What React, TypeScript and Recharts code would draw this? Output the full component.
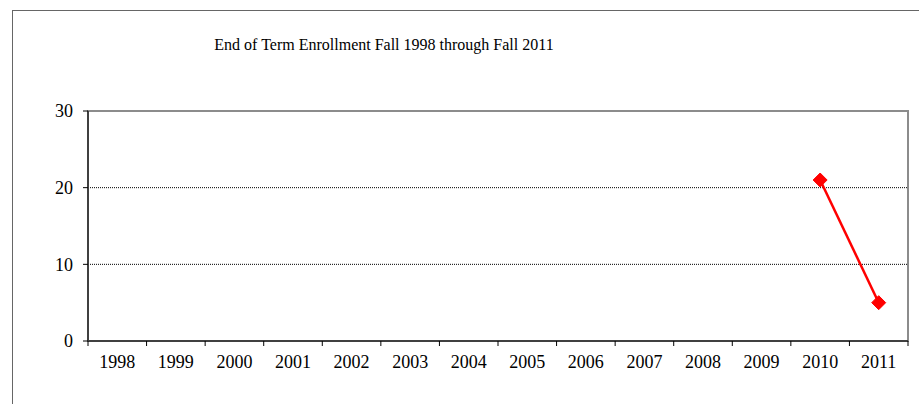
import { LineChart, Line, XAxis, YAxis, ReferenceLine, ReferenceArea } from 'recharts';

const years = ['1998', '1999', '2000', '2001', '2002', '2003', '2004', '2005', '2006', '2007', '2008', '2009', '2010', '2011'];
const enrollment: (number | null)[] = [null, null, null, null, null, null, null, null, null, null, null, null, 21, 5];
const yTicks = [0, 10, 20, 30];

const data = years.map((year, i) => ({ year, value: enrollment[i] }));

const W = 919;
const H = 404;
const margin = { top: 111, right: 11, bottom: 33, left: 28 };
const yAxisWidth = 60;
const plotWidth = W - margin.left - margin.right - yAxisWidth;
const band = plotWidth / years.length;
const font = '"Liberation Serif", "Times New Roman", serif';

function YearTick(props: any) {
  const { x, y, payload, index } = props;
  const axisY = y - 11;
  return (
    <g>
      <line x1={x - band / 2} x2={x - band / 2} y1={axisY} y2={axisY + 5} stroke="#000" strokeWidth={1} />
      {index === years.length - 1 && (
        <line x1={x + band / 2} x2={x + band / 2} y1={axisY} y2={axisY + 5} stroke="#000" strokeWidth={1} />
      )}
      <text x={x} y={y} dy={16} textAnchor="middle" fontSize={18} fontFamily={font} fill="#000">
        {payload.value}
      </text>
    </g>
  );
}

function Diamond(props: any) {
  const { cx, cy } = props;
  if (cx == null || cy == null || props.value == null) return null;
  const r = 7;
  return <polygon points={`${cx},${cy - r} ${cx + r},${cy} ${cx},${cy + r} ${cx - r},${cy}`} fill="#ff0000" stroke="#ff0000" />;
}

export default function App() {
  return (
    <div style={{ position: 'absolute', left: 0, top: 0, width: W, height: H, overflow: 'hidden', background: '#fff' }}>
      <div
        style={{
          position: 'absolute',
          left: 12,
          top: 10,
          width: 1000,
          height: 1000,
          borderLeft: '1.5px solid #666',
          borderTop: '1.5px solid #666',
        }}
      />
      <div
        style={{
          position: 'absolute',
          left: 0,
          width: 768,
          top: 36,
          textAlign: 'center',
          fontFamily: font,
          fontSize: 16,
          color: '#000',
        }}
      >
        End of Term Enrollment Fall 1998 through Fall 2011
      </div>
      <div style={{ position: 'absolute', left: 0, top: 0 }}>
        <LineChart width={W} height={H} data={data} margin={margin}>
          <ReferenceArea y1={0} y2={30} fill="none" stroke="#8c8c8c" strokeWidth={2} ifOverflow="visible" />
          <ReferenceLine y={20} stroke="#000" strokeDasharray="1 1" strokeWidth={1} />
          <ReferenceLine y={10} stroke="#000" strokeDasharray="1 1" strokeWidth={1} />
          <XAxis
            dataKey="year"
            scale="band"
            height={30}
            tickLine={false}
            tickSize={5}
            tickMargin={6}
            axisLine={{ stroke: '#404040', strokeWidth: 2 }}
            tick={<YearTick />}
            interval={0}
          />
          <YAxis
            width={yAxisWidth}
            domain={[0, 30]}
            ticks={yTicks}
            tickSize={5}
            tickMargin={10}
            axisLine={{ stroke: '#404040', strokeWidth: 2 }}
            tickLine={{ stroke: '#000' }}
            tick={{ fill: '#000', fontSize: 18, fontFamily: font }}
          />
          <Line
            dataKey="value"
            stroke="#ff0000"
            strokeWidth={2.5}
            dot={<Diamond />}
            activeDot={false}
            connectNulls={false}
            isAnimationActive={false}
          />
        </LineChart>
      </div>
    </div>
  );
}
